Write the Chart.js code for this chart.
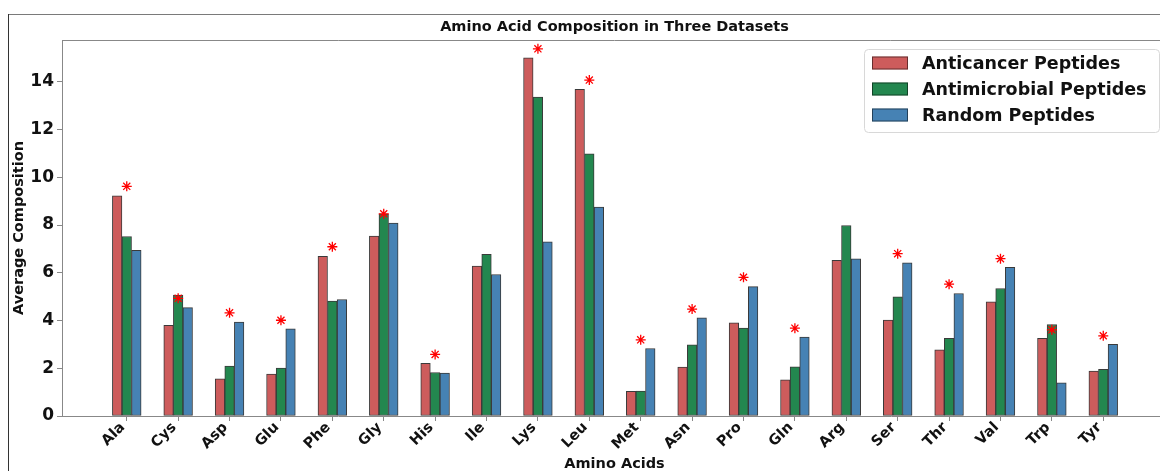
<!DOCTYPE html>
<html>
<head>
<meta charset="utf-8">
<title>Amino Acid Composition</title>
<script src="https://cdn.jsdelivr.net/npm/chart.js@4"></script>
<style>
html, body { margin: 0; padding: 0; background: #fff; overflow: hidden; }
#wrap { width: 1160px; height: 471px; overflow: hidden; }
canvas { display: block; }
</style>
</head>
<body>
<div id="wrap"><canvas id="aminoChart" width="1180" height="471"></canvas></div>
<script>
// values
const aminoAcids = ['Ala', 'Cys', 'Asp', 'Glu', 'Phe', 'Gly', 'His', 'Ile', 'Lys', 'Leu',
                    'Met', 'Asn', 'Pro', 'Gln', 'Arg', 'Ser', 'Thr', 'Val', 'Trp', 'Tyr'];
const anticancer    = [9.22, 3.80, 1.56, 1.76, 6.69, 7.54, 2.21, 6.28, 15.00, 13.69,
                       1.03, 2.05, 3.90, 1.52, 6.52, 4.02, 2.77, 4.78, 3.25, 1.88];
const antimicrobial = [7.52, 5.07, 2.09, 2.01, 4.81, 8.47, 1.82, 6.77, 13.36, 10.98,
                       1.05, 2.98, 3.68, 2.06, 7.98, 4.99, 3.25, 5.34, 3.83, 1.96];
const randomPep     = [6.94, 4.54, 3.94, 3.65, 4.88, 8.08, 1.80, 5.93, 7.30, 8.75,
                       2.83, 4.11, 5.42, 3.31, 6.59, 6.42, 5.13, 6.23, 1.39, 3.00];
// height of the red significance stars (null = no star)
const starLevels    = [9.62, 4.93, 4.32, 4.01, 7.09, 8.47, 2.58, null, 15.38, 14.07,
                       3.19, 4.48, 5.81, 3.68, null, 6.80, 5.52, 6.59, 3.61, 3.36];
const yTicks = [0, 2, 4, 6, 8, 10, 12, 14];
const seriesNames = ['Anticancer Peptides', 'Antimicrobial Peptides', 'Random Peptides'];
const seriesColors = ['#cd5c5c', '#23874f', '#4682b4'];

const FONT = '"DejaVu Sans", sans-serif';

const toPoints = (arr) => arr.map((v, i) => ({ x: i, y: v }));
const starPoints = starLevels.map((v, i) => ({ x: i, y: v })).filter(p => p.y !== null);

// outer frame, top spine
const framePlugin = {
    id: 'frame',
    beforeDraw(chart) {
        const ctx = chart.ctx;
        ctx.save();
        ctx.fillStyle = '#fff';
        ctx.fillRect(0, 0, chart.width, chart.height);
        ctx.lineWidth = 1;
        ctx.strokeStyle = '#7a7a7a';
        ctx.beginPath();
        ctx.moveTo(8, 14.5);
        ctx.lineTo(chart.width, 14.5);
        ctx.stroke();
        ctx.strokeStyle = '#333';
        ctx.beginPath();
        ctx.moveTo(8.5, 14);
        ctx.lineTo(8.5, chart.height);
        ctx.stroke();
        ctx.restore();
    },
    afterDraw(chart) {
        const ctx = chart.ctx;
        const a = chart.chartArea;
        ctx.save();
        ctx.strokeStyle = '#888';
        ctx.lineWidth = 1;
        ctx.beginPath();
        ctx.moveTo(a.left, Math.round(a.top) + 0.5);
        ctx.lineTo(a.right, Math.round(a.top) + 0.5);
        ctx.stroke();
        ctx.restore();
    }
};

// matplotlib-style legend box in the upper right corner
const legendPlugin = {
    id: 'boxLegend',
    afterDraw(chart) {
        const ctx = chart.ctx;
        const a = chart.chartArea;
        const w = 295, h = 83;
        const x0 = a.right - 8 - w, y0 = a.top + 9;
        ctx.save();
        ctx.fillStyle = 'rgba(255,255,255,0.85)';
        ctx.strokeStyle = '#d8d8d8';
        ctx.lineWidth = 1;
        ctx.beginPath();
        ctx.roundRect(x0 + 0.5, y0 + 0.5, w, h, 4);
        ctx.fill();
        ctx.stroke();
        ctx.font = 'bold 17.5px ' + FONT;
        ctx.textBaseline = 'middle';
        ctx.textAlign = 'left';
        seriesNames.forEach((name, i) => {
            const cy = y0 + 14 + i * 26;
            ctx.fillStyle = seriesColors[i];
            ctx.fillRect(x0 + 8, cy - 6.5, 36, 13);
            ctx.strokeStyle = 'rgba(0,0,0,0.5)';
            ctx.strokeRect(x0 + 8.5, cy - 6, 35, 12);
            ctx.fillStyle = '#111';
            ctx.fillText(name, x0 + 58, cy + 1);
        });
        ctx.restore();
    }
};

const barDataset = (label, values, color) => ({
    type: 'bar',
    label: label,
    data: toPoints(values),
    backgroundColor: color,
    borderColor: '#3a3a3a',
    borderWidth: 1,
    borderSkipped: false,
    inflateAmount: 0.3,
    categoryPercentage: 0.56,
    barPercentage: 1.0
});

const ctx = document.getElementById('aminoChart').getContext('2d');
const aminoChart = new Chart(ctx, {
    data: {
        datasets: [
            barDataset(seriesNames[0], anticancer, seriesColors[0]),
            barDataset(seriesNames[1], antimicrobial, seriesColors[1]),
            barDataset(seriesNames[2], randomPep, seriesColors[2]),
            {
                type: 'scatter',
                label: 'significant',
                order: -1,
                data: starPoints,
                pointStyle: 'star',
                radius: 5,
                borderColor: '#ff0000',
                backgroundColor: '#ff0000',
                borderWidth: 1.3
            }
        ]
    },
    options: {
        responsive: false,
        animation: false,
        devicePixelRatio: 1,
        layout: { padding: { left: 0, right: 13, top: 0, bottom: 0 } },
        plugins: {
            legend: { display: false },
            tooltip: { enabled: false },
            title: {
                display: true,
                fullSize: false,
                text: 'Amino Acid Composition in Three Datasets',
                color: '#111',
                font: { family: FONT, size: 14.5, weight: 'bold', lineHeight: 1.2 },
                padding: { top: 18.3, bottom: 4.3 }
            }
        },
        scales: {
            x: {
                type: 'linear',
                min: -1.26,
                max: 20.24,
                offset: false,
                grid: { display: true, drawOnChartArea: false, offset: false, tickLength: 5, color: '#888' },
                border: { display: true, color: '#888' },
                afterBuildTicks: (scale) => { scale.ticks = aminoAcids.map((_, i) => ({ value: i })); },
                afterFit: (scale) => { scale.height = 55; },
                ticks: {
                    autoSkip: false,
                    minRotation: 45,
                    maxRotation: 45,
                    padding: -2,
                    labelOffset: -4,
                    color: '#111',
                    font: { family: FONT, size: 14.5, weight: 'bold' },
                    callback: (v) => aminoAcids[v] ?? ''
                },
                title: {
                    display: true,
                    text: 'Amino Acids',
                    color: '#111',
                    font: { family: FONT, size: 14.5, weight: 'bold', lineHeight: 1 },
                    padding: { top: 0, bottom: 0 }
                }
            },
            y: {
                min: 0,
                max: 15.75,
                grid: { display: true, drawOnChartArea: false, tickLength: 5, color: '#888' },
                border: { display: true, color: '#888' },
                afterBuildTicks: (scale) => { scale.ticks = yTicks.map(v => ({ value: v })); },
                afterFit: (scale) => { scale.width = 62; },
                ticks: {
                    padding: 3,
                    color: '#111',
                    font: { family: FONT, size: 17, weight: 'bold' }
                },
                title: {
                    display: true,
                    text: 'Average Composition',
                    color: '#111',
                    font: { family: FONT, size: 14.5, weight: 'bold', lineHeight: 1.2 },
                    padding: { top: 11, bottom: 0 }
                }
            }
        }
    },
    plugins: [framePlugin, legendPlugin]
});
</script>
</body>
</html>
